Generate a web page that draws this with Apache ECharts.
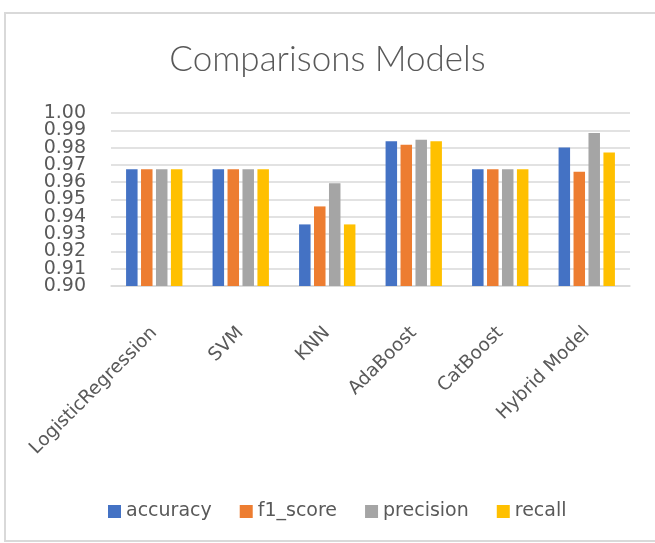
<!DOCTYPE html>
<html>
<head>
<meta charset="utf-8">
<script src="https://cdn.jsdelivr.net/npm/echarts@6/dist/echarts.min.js"></script>
<style>
html,body{margin:0;padding:0;background:#fff;}
#c{width:655px;height:543px;}
</style>
</head>
<body>
<div id="c"></div>
<script>
const categories = ['LogisticRegression', 'SVM', 'KNN', 'AdaBoost', 'CatBoost', 'Hybrid Model'];
const accuracy  = [0.9675, 0.9675, 0.9356, 0.9837, 0.9675, 0.9800];
const f1_score  = [0.9675, 0.9675, 0.9460, 0.9816, 0.9675, 0.9660];
const precision = [0.9675, 0.9675, 0.9594, 0.9845, 0.9675, 0.9884];
const recall    = [0.9675, 0.9675, 0.9356, 0.9837, 0.9675, 0.9771];
const seriesNames = ['accuracy', 'f1_score', 'precision', 'recall'];
const colors = ['#4472C4', '#ED7D31', '#A5A5A5', '#FFC000'];
const yMin = 0.90, yMax = 1.00, yStep = 0.01;

const chart = echarts.init(document.getElementById('c'));
const dataSets = [accuracy, f1_score, precision, recall];
// Two overlaid value axes: one labels even ticks, the other odd ticks,
// so that ECharts' min/max overlap check does not hide any tick label.
const labelBase = {fontFamily: 'DejaVu Sans', fontSize: 19, color: '#595959', margin: 25,
  showMinLabel: true, showMaxLabel: true};
const idx = v => Math.round((v - yMin) / yStep);
chart.setOption({
  animation: false,
  color: colors,
  graphic: [{
    type: 'rect',
    shape: {x: 5, y: 13, width: 660, height: 528},
    style: {fill: 'none', stroke: '#d9d9d9', lineWidth: 2},
    silent: true
  }],
  title: {
    text: 'Comparisons Models',
    left: 'center',
    top: 37,
    textStyle: {fontFamily: 'Lato', fontWeight: 300, fontSize: 35, color: '#595959'}
  },
  legend: {
    top: 497,
    left: 103,
    itemWidth: 13,
    itemHeight: 13,
    itemGap: 28,
    icon: 'rect',
    textStyle: {fontFamily: 'DejaVu Sans', fontSize: 19, color: '#595959', padding: [0,0,0,0]},
    data: seriesNames
  },
  grid: {left: 111, right: 25, top: 113, bottom: 257},
  xAxis: {
    type: 'category',
    data: categories,
    axisLine: {lineStyle: {color: '#d9d9d9', width: 1.5}},
    axisTick: {show: false},
    axisLabel: {rotate: 45, fontFamily: 'DejaVu Sans', fontSize: 18.5, color: '#595959', margin: 44, interval: 0}
  },
  yAxis: [{
    type: 'value',
    min: yMin, max: yMax, interval: yStep,
    axisLine: {show: false},
    axisTick: {show: false},
    splitLine: {lineStyle: {color: '#d9d9d9', width: 1.5}},
    axisLabel: Object.assign({}, labelBase, {formatter: v => idx(v) % 2 === 0 ? v.toFixed(2) : ''})
  }, {
    type: 'value',
    position: 'left',
    min: yMin, max: yMax, interval: yStep,
    axisLine: {show: false},
    axisTick: {show: false},
    splitLine: {show: false},
    axisLabel: Object.assign({}, labelBase, {formatter: v => idx(v) % 2 === 1 ? v.toFixed(2) : ''})
  }],
  series: seriesNames.map((n, i) => ({
    name: n,
    type: 'bar',
    yAxisIndex: 0,
    data: dataSets[i],
    barWidth: 11.5,
    barGap: '30%',
    itemStyle: {color: colors[i]}
  }))
});
</script>
</body>
</html>
